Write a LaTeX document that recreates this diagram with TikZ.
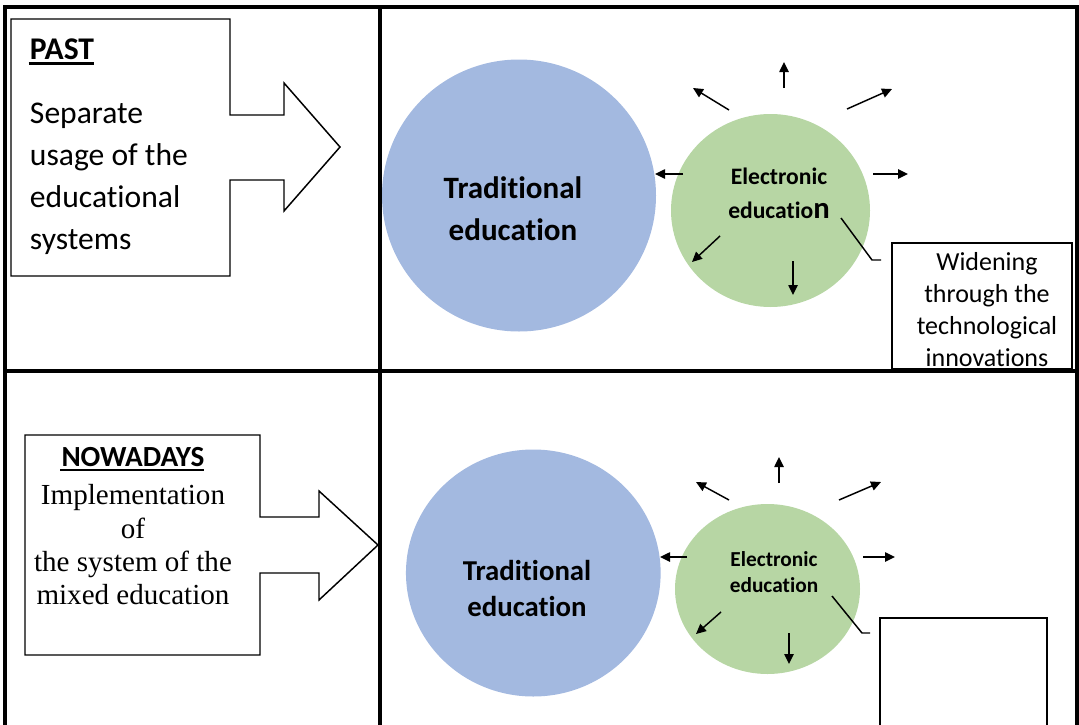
\documentclass[tikz,border=0pt]{standalone}
\usepackage{fontspec}
\setmainfont{Carlito}[Ligatures=NoCommon]
\newfontfamily\tnr{Liberation Serif}
\usetikzlibrary{arrows.meta,shapes.geometric}
\definecolor{tradblue}{HTML}{A3B9E0}
\definecolor{elgreen}{HTML}{B7D6A4}
\tikzset{
  framerule/.style={line width=2.3pt},
  thinline/.style={line width=1.1pt, line join=miter},
  uline/.style={line width=2.1pt},
  ray/.style={line width=1.1pt, -{Triangle[length=7.5pt,width=7pt]}},
  blob/.style={ellipse, inner sep=0pt, draw=none},
  txt/.style={inner sep=0pt, outer sep=0pt},
}
\begin{document}
\begin{tikzpicture}[x=0.75pt,y=-0.75pt]
\useasboundingbox (0,0) rectangle (1079,725);
% table frame
\draw[framerule] (5,725) -- (5,7) -- (1077,7) -- (1077,725);
\draw[framerule] (380,7) -- (380,725);
\draw[framerule] (5,371) -- (1077,371);

% ---------- PAST ----------
\draw[thinline] (11,19) -- (230,19) -- (230,115) -- (284,115) -- (284,83) -- (340,147)
  -- (284,211) -- (284,180) -- (230,180) -- (230,276) -- (11,276) -- cycle;
\node[txt, anchor=base west, font=\fontsize{23.7pt}{31.5pt}\selectfont\bfseries] (past) at (30,59.5) {PAST};
\draw[uline] ([yshift=-3.2pt,xshift=-1pt]past.base west) -- ([yshift=-3.2pt]past.base east);
\node[txt, anchor=west, align=left, font=\fontsize{23.7pt}{31.5pt}\selectfont] (pasttext) at (30,179)
  {Separate\\usage of the\\educational\\systems};

\node[blob, fill=tradblue, minimum width=205.5pt, minimum height=204pt] (trad1) at (519,195.5) {};
\node[txt, align=center, font=\fontsize{23.3pt}{31.5pt}\selectfont\bfseries] (tradtext1) at (513,209)
  {Traditional\\education};

\node[blob, fill=elgreen, minimum width=149.25pt, minimum height=144.75pt] (el1) at (770.5,210.5) {};
\node[txt, align=center, font=\fontsize{17.7pt}{25.5pt}\selectfont\bfseries] (eltext1) at (779,193)
  {Electronic\\educatio{\fontsize{23pt}{25.5pt}\selectfont n}};

\draw[ray] (784,88) -- (784,62);
\draw[ray] (729,110) -- (693,88);
\draw[ray] (847,109) -- (892,89);
\draw[ray] (683,174) -- (655,174);
\draw[ray] (873,174) -- (908,174);
\draw[ray] (720,236) -- (692,262);
\draw[ray] (793,261) -- (793,295);

\node[thinline, draw, fill=white, minimum width=135pt, minimum height=94.5pt, inner sep=0pt] (wbox) at (982,306) {};
\coordinate (call1) at (881,260);
\draw[thinline] (841,218) -- (872,260) -- (call1);
\node[txt, align=center, font=\fontsize{19.5pt}{24pt}\selectfont] (wtext) at (987,310)
  {Widening\\through the\\technological\\innovations};

% ---------- NOWADAYS ----------
\draw[thinline] (25,435) -- (260,435) -- (260,517) -- (319,517) -- (319,491) -- (378,545)
  -- (319,600) -- (319,573) -- (260,573) -- (260,655) -- (25,655) -- cycle;
\node[txt, anchor=base, font=\fontsize{21.9pt}{26pt}\selectfont\bfseries] (now) at (133,466.5) {NOWADAYS};
\draw[uline] ([yshift=-2.6pt,xshift=-1pt]now.base west) -- ([yshift=-2.6pt]now.base east);
\node[txt, align=center, font=\tnr\fontsize{21.8pt}{25pt}\selectfont] (nowtext) at (133,545)
  {Implementation\\of\\the system of the\\mixed education};

\node[blob, fill=tradblue, minimum width=191pt, minimum height=185.25pt] (trad2) at (533.3,573) {};
\node[txt, align=center, font=\fontsize{21.6pt}{27pt}\selectfont\bfseries] (tradtext2) at (527,588)
  {Traditional\\education};

\node[blob, fill=elgreen, minimum width=138.75pt, minimum height=127.5pt] (el2) at (767.5,589) {};
\node[txt, align=center, font=\fontsize{16pt}{19.5pt}\selectfont\bfseries] (eltext2) at (774,572)
  {Electronic\\education};

\draw[ray] (779,483) -- (779,457);
\draw[ray] (729,500) -- (696,482);
\draw[ray] (839,500) -- (881,482);
\draw[ray] (687,557) -- (660,557);
\draw[ray] (863,557) -- (895,557);
\draw[ray] (721,612) -- (696,634);
\draw[ray] (789,633) -- (789,664);

\coordinate (call2) at (870,633);
\draw[thinline] (832,596) -- (862,633) -- (call2);
\draw[thinline] (880,730) -- (880,618) -- (1047,618) -- (1047,730);
\end{tikzpicture}
\end{document}
